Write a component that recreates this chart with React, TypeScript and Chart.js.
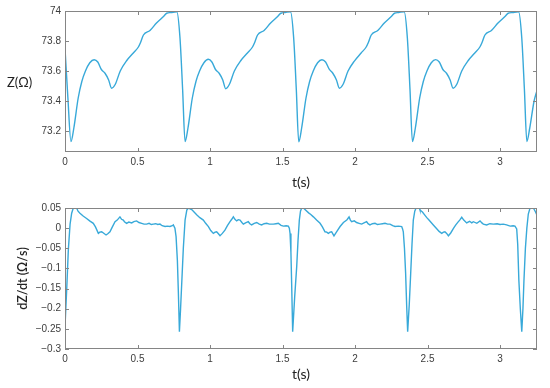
import React, { useEffect, useRef } from "react";
import { Chart, registerables } from "chart.js";

Chart.register(...registerables);

const LINE_COLOR = "#38a9d9";
const AXIS_COLOR = "#858585";
const TICK_COLOR = "#3c3c3c";
const TITLE_COLOR = "#222222";

// shared time axis
const xTickValues = [0, 0.5, 1, 1.5, 2, 2.5, 3];
const xMin = 0;
const xMax = 3.255;

// impedance Z(Ω)
const zTickValues = [73.2, 73.4, 73.6, 73.8, 74];
const zMin = 73.06;
const zMax = 74;
const zTimes = [
  0, 0.02, 0.041, 0.061, 0.091, 0.116, 0.141, 0.171, 0.201, 0.226,
  0.251, 0.276, 0.301, 0.321, 0.346, 0.381, 0.426, 0.471, 0.506, 0.521,
  0.541, 0.586, 0.631, 0.681, 0.701, 0.731, 0.771, 0.793, 0.811,
  0.828, 0.848, 0.878, 0.903, 0.928, 0.958, 0.988, 1.013, 1.038, 1.063,
  1.088, 1.108, 1.133, 1.168, 1.213, 1.258, 1.293, 1.308, 1.328, 1.373,
  1.418, 1.468, 1.488, 1.518, 1.555, 1.577, 1.595,
  1.612, 1.632, 1.662, 1.687, 1.712, 1.742, 1.772, 1.797, 1.822, 1.847,
  1.872, 1.892, 1.917, 1.952, 1.997, 2.042, 2.077, 2.092, 2.112, 2.157,
  2.202, 2.252, 2.272, 2.302, 2.339, 2.361, 2.379,
  2.396, 2.416, 2.446, 2.471, 2.496, 2.526, 2.556, 2.581, 2.606, 2.631,
  2.656, 2.676, 2.701, 2.736, 2.781, 2.826, 2.861, 2.876, 2.896, 2.941,
  2.986, 3.036, 3.056, 3.086, 3.128, 3.15, 3.168,
  3.185, 3.205, 3.235, 3.255,
];
const zValues = [
  73.75, 73.42, 73.13, 73.22, 73.42, 73.53, 73.6, 73.655, 73.675, 73.66,
  73.61, 73.585, 73.54, 73.485, 73.51, 73.6, 73.67, 73.72, 73.76, 73.79,
  73.84, 73.87, 73.92, 73.965, 73.985, 73.99, 73.995, 73.82, 73.48,
  73.13, 73.22, 73.42, 73.53, 73.6, 73.655, 73.678, 73.66, 73.61, 73.585,
  73.54, 73.482, 73.51, 73.6, 73.67, 73.72, 73.76, 73.79, 73.84, 73.87,
  73.92, 73.965, 73.985, 73.99, 73.995, 73.82, 73.48,
  73.128, 73.22, 73.42, 73.53, 73.6, 73.655, 73.675, 73.66, 73.612, 73.585,
  73.54, 73.485, 73.51, 73.6, 73.668, 73.72, 73.76, 73.79, 73.84, 73.87,
  73.92, 73.965, 73.985, 73.99, 73.995, 73.82, 73.48,
  73.13, 73.22, 73.42, 73.53, 73.6, 73.655, 73.676, 73.66, 73.61, 73.585,
  73.54, 73.485, 73.51, 73.6, 73.67, 73.72, 73.76, 73.79, 73.84, 73.87,
  73.92, 73.965, 73.985, 73.99, 73.995, 73.82, 73.48,
  73.13, 73.22, 73.4, 73.47,
];

// derivative dZ/dt (Ω/s)
const dzTickValues = [-0.3, -0.25, -0.2, -0.15, -0.1, -0.05, 0, 0.05];
const dzMin = -0.3;
const dzMax = 0.05;
const dzTimes = [
  0, 0.012, 0.023, 0.035, 0.046, 0.057, 0.08, 0.09, 0.103, 0.125,
  0.149, 0.17, 0.195, 0.21, 0.23, 0.24, 0.253, 0.265, 0.283, 0.295,
  0.31, 0.325, 0.345, 0.36, 0.379, 0.39, 0.402, 0.41, 0.425, 0.44,
  0.46, 0.475, 0.494, 0.51, 0.529, 0.545, 0.563, 0.58, 0.595, 0.609,
  0.625, 0.64, 0.655, 0.67, 0.69, 0.705, 0.724, 0.74, 0.747, 0.758,
  0.766, 0.775, 0.782, 0.789, 0.797, 0.805, 0.816, 0.828, 0.84, 0.851,
  0.874, 0.89, 0.908, 0.93, 0.954, 0.97, 0.989, 1.005, 1.023, 1.035,
  1.046, 1.058, 1.069, 1.085, 1.103, 1.12, 1.138, 1.15, 1.161, 1.172,
  1.184, 1.195, 1.207, 1.22, 1.23, 1.245, 1.264, 1.275, 1.287, 1.305,
  1.322, 1.34, 1.356, 1.373, 1.391, 1.41, 1.437, 1.455, 1.471, 1.49,
  1.506, 1.525, 1.54, 1.547, 1.552, 1.558, 1.563, 1.57, 1.584, 1.598,
  1.607, 1.616, 1.624, 1.632,
  1.645, 1.655, 1.68, 1.695, 1.713, 1.735, 1.759, 1.775, 1.793, 1.805,
  1.816, 1.828, 1.839, 1.847, 1.855, 1.875, 1.897, 1.92, 1.943, 1.951,
  1.959, 1.968, 1.977, 1.995, 2.011, 2.028, 2.046, 2.062, 2.08, 2.09,
  2.103, 2.12, 2.138, 2.155, 2.172, 2.19, 2.207, 2.225, 2.241, 2.26,
  2.276, 2.3, 2.322, 2.328, 2.333, 2.341, 2.349, 2.356, 2.363, 2.374,
  2.384, 2.393, 2.402, 2.412, 2.421,
  2.444, 2.448, 2.465, 2.48, 2.495, 2.51, 2.525, 2.54, 2.565, 2.58,
  2.598, 2.61, 2.62, 2.632, 2.644, 2.66, 2.68, 2.695, 2.71, 2.722,
  2.736, 2.75, 2.77, 2.79, 2.805, 2.816, 2.84, 2.862, 2.875, 2.885,
  2.908, 2.93, 2.954, 2.98, 3.0, 3.023, 3.045, 3.07, 3.09, 3.103,
  3.115, 3.122, 3.13, 3.14, 3.15, 3.158, 3.165, 3.175, 3.185, 3.195,
  3.207, 3.23, 3.245, 3.255,
];
const dzValues = [
  -0.245, -0.15, -0.054, 0.01, 0.037, 0.05, 0.05, 0.042, 0.037, 0.03,
  0.024, 0.018, 0.012, 0.003, -0.013, -0.01, -0.009, -0.012, -0.017, -0.014,
  -0.009, 0.002, 0.016, 0.02, 0.028, 0.022, 0.02, 0.016, 0.012, 0.015,
  0.013, 0.016, 0.018, 0.014, 0.012, 0.01, 0.01, 0.012, 0.009, 0.01,
  0.011, 0.009, 0.01, 0.006, 0.004, 0.005, 0.004, 0.006, 0.008, 0.0,
  -0.021, -0.08, -0.162, -0.257, -0.2, -0.137, -0.05, 0.02, 0.045, 0.05,
  0.046, 0.04, 0.033, 0.026, 0.02, 0.012, 0.004, -0.006, -0.013, -0.01,
  -0.009, -0.014, -0.019, -0.013, -0.005, 0.006, 0.016, 0.022, 0.028, 0.022,
  0.018, 0.021, 0.02, 0.014, 0.01, 0.013, 0.016, 0.011, 0.008, 0.012,
  0.014, 0.01, 0.008, 0.011, 0.012, 0.01, 0.01, 0.011, 0.012, 0.007,
  0.005, 0.006, 0.005, 0.0, -0.013, -0.06, -0.137, -0.257, -0.17, -0.095,
  -0.03, 0.02, 0.042, 0.05,
  0.05, 0.046, 0.038, 0.034, 0.028, 0.02, 0.012, 0.003, -0.009, -0.01,
  -0.013, -0.01, -0.009, -0.014, -0.019, -0.008, 0.004, 0.014, 0.02, 0.024,
  0.028, 0.02, 0.016, 0.018, 0.014, 0.012, 0.01, 0.013, 0.016, 0.011,
  0.008, 0.011, 0.012, 0.009, 0.01, 0.011, 0.012, 0.01, 0.01, 0.006,
  0.004, 0.005, 0.004, -0.002, -0.009, -0.05, -0.112, -0.19, -0.257, -0.19,
  -0.112, -0.04, 0.02, 0.042, 0.05,
  0.05, 0.045, 0.04, 0.033, 0.026, 0.02, 0.014, 0.008, -0.002, -0.008,
  -0.013, -0.01, -0.009, -0.013, -0.019, -0.012, 0.0, 0.008, 0.015, 0.02,
  0.027, 0.02, 0.013, 0.017, 0.013, 0.016, 0.012, 0.018, 0.013, 0.01,
  0.008, 0.011, 0.01, 0.011, 0.009, 0.01, 0.008, 0.005, 0.006, 0.005,
  -0.002, -0.04, -0.13, -0.2, -0.257, -0.2, -0.13, -0.05, 0.0, 0.035,
  0.05, 0.05, 0.04, 0.032,
];

const W = 550;
const H_TOP = 194;
const H_BOTTOM = 194;

const fmt = (v: number) => {
  const r = Math.round(v * 1000) / 1000;
  return String(r).replace("-", "\u2212");
};

const boxPlugin = {
  id: "matlabBox",
  afterDatasetsDraw(chart: any) {
    const { ctx, chartArea: a, scales } = chart;
    ctx.save();
    ctx.strokeStyle = AXIS_COLOR;
    ctx.lineWidth = 1;
    ctx.strokeRect(a.left + 0.5, a.top + 0.5, a.right - a.left - 1, a.bottom - a.top - 1);
    const L = 4;
    ctx.beginPath();
    for (const t of scales.x.ticks) {
      const x = Math.round(scales.x.getPixelForValue(t.value)) + 0.5;
      ctx.moveTo(x, a.bottom);
      ctx.lineTo(x, a.bottom - L);
      ctx.moveTo(x, a.top);
      ctx.lineTo(x, a.top + L);
    }
    for (const t of scales.y.ticks) {
      const y = Math.round(scales.y.getPixelForValue(t.value)) + 0.5;
      ctx.moveTo(a.left, y);
      ctx.lineTo(a.left + L, y);
      ctx.moveTo(a.right, y);
      ctx.lineTo(a.right - L, y);
    }
    ctx.stroke();
    ctx.restore();
  },
};

const zLabelPlugin = {
  id: "zLabel",
  afterDraw(chart: any) {
    const { ctx, chartArea: a } = chart;
    ctx.save();
    ctx.fillStyle = TITLE_COLOR;
    ctx.font = "13px Lato, 'Open Sans', sans-serif";
    ctx.textAlign = "left";
    ctx.textBaseline = "middle";
    ctx.fillText("Z(\u03A9)", 7, (a.top + a.bottom) / 2 + 1);
    ctx.restore();
  },
};

function makeConfig(
  times: number[],
  values: number[],
  yMin: number,
  yMax: number,
  yTicks: number[],
  smooth: boolean,
  padTop: number,
  xAxisHeight: number,
  xTitlePad: number,
  yTitle: string | null,
  extraPlugins: any[]
): any {
  return {
    type: "line",
    data: {
      datasets: [
        {
          data: times.map((t, i) => ({ x: t, y: values[i] })),
          borderColor: LINE_COLOR,
          borderWidth: 1.4,
          pointRadius: 0,
          fill: false,
          tension: smooth ? 0.4 : 0,
          cubicInterpolationMode: smooth ? "monotone" : "default",
        },
      ],
    },
    options: {
      responsive: false,
      maintainAspectRatio: false,
      animation: false,
      devicePixelRatio: 1,
      layout: { padding: { top: padTop, right: 13, left: 0, bottom: 0 } },
      plugins: { legend: { display: false }, tooltip: { enabled: false } },
      scales: {
        x: {
          type: "linear",
          min: xMin,
          max: xMax,
          afterBuildTicks: (s: any) => {
            s.ticks = xTickValues.map((v) => ({ value: v }));
          },
          afterFit: (s: any) => {
            s.height = xAxisHeight;
          },
          grid: { display: false, drawTicks: false },
          border: { display: false },
          ticks: {
            color: TICK_COLOR,
            font: { family: "'Liberation Sans', Arial, sans-serif", size: 10 },
            padding: 4,
            maxRotation: 0,
            autoSkip: false,
            callback: (v: any) => fmt(Number(v)),
          },
          title: {
            display: true,
            text: "t(s)",
            color: TITLE_COLOR,
            font: { family: "Lato, 'Open Sans', sans-serif", size: 14 },
            padding: { top: 0, bottom: xTitlePad },
          },
        },
        y: {
          type: "linear",
          min: yMin,
          max: yMax,
          afterBuildTicks: (s: any) => {
            s.ticks = yTicks.map((v) => ({ value: v }));
          },
          afterFit: (s: any) => {
            s.width = 65;
          },
          grid: { display: false, drawTicks: false },
          border: { display: false },
          ticks: {
            color: TICK_COLOR,
            font: { family: "'Liberation Sans', Arial, sans-serif", size: 10 },
            padding: 4,
            autoSkip: false,
            callback: (v: any) => fmt(Number(v)),
          },
          title: {
            display: !!yTitle,
            text: yTitle || "",
            color: TITLE_COLOR,
            font: { family: "Lato, 'Open Sans', sans-serif", size: 12.5, weight: "600" },
            padding: { top: 15, bottom: 0 },
          },
        },
      },
    },
    plugins: [boxPlugin, ...extraPlugins],
  };
}

export default function App() {
  const topRef = useRef<HTMLCanvasElement | null>(null);
  const bottomRef = useRef<HTMLCanvasElement | null>(null);

  useEffect(() => {
    const top = new Chart(
      topRef.current as HTMLCanvasElement,
      makeConfig(zTimes, zValues, zMin, zMax, zTickValues, true, 11, 42, 3.5, null, [zLabelPlugin])
    );
    const bottom = new Chart(
      bottomRef.current as HTMLCanvasElement,
      makeConfig(dzTimes, dzValues, dzMin, dzMax, dzTickValues, false, 14, 39, 5, "dZ/dt (\u03A9/s)", [])
    );
    return () => {
      top.destroy();
      bottom.destroy();
    };
  }, []);

  return (
    <div
      style={{
        position: "fixed",
        left: 0,
        top: 0,
        width: W,
        height: H_TOP + H_BOTTOM,
        background: "#ffffff",
      }}
    >
      <canvas ref={topRef} width={W} height={H_TOP} style={{ display: "block", width: W, height: H_TOP }} />
      <canvas ref={bottomRef} width={W} height={H_BOTTOM} style={{ display: "block", width: W, height: H_BOTTOM }} />
    </div>
  );
}
